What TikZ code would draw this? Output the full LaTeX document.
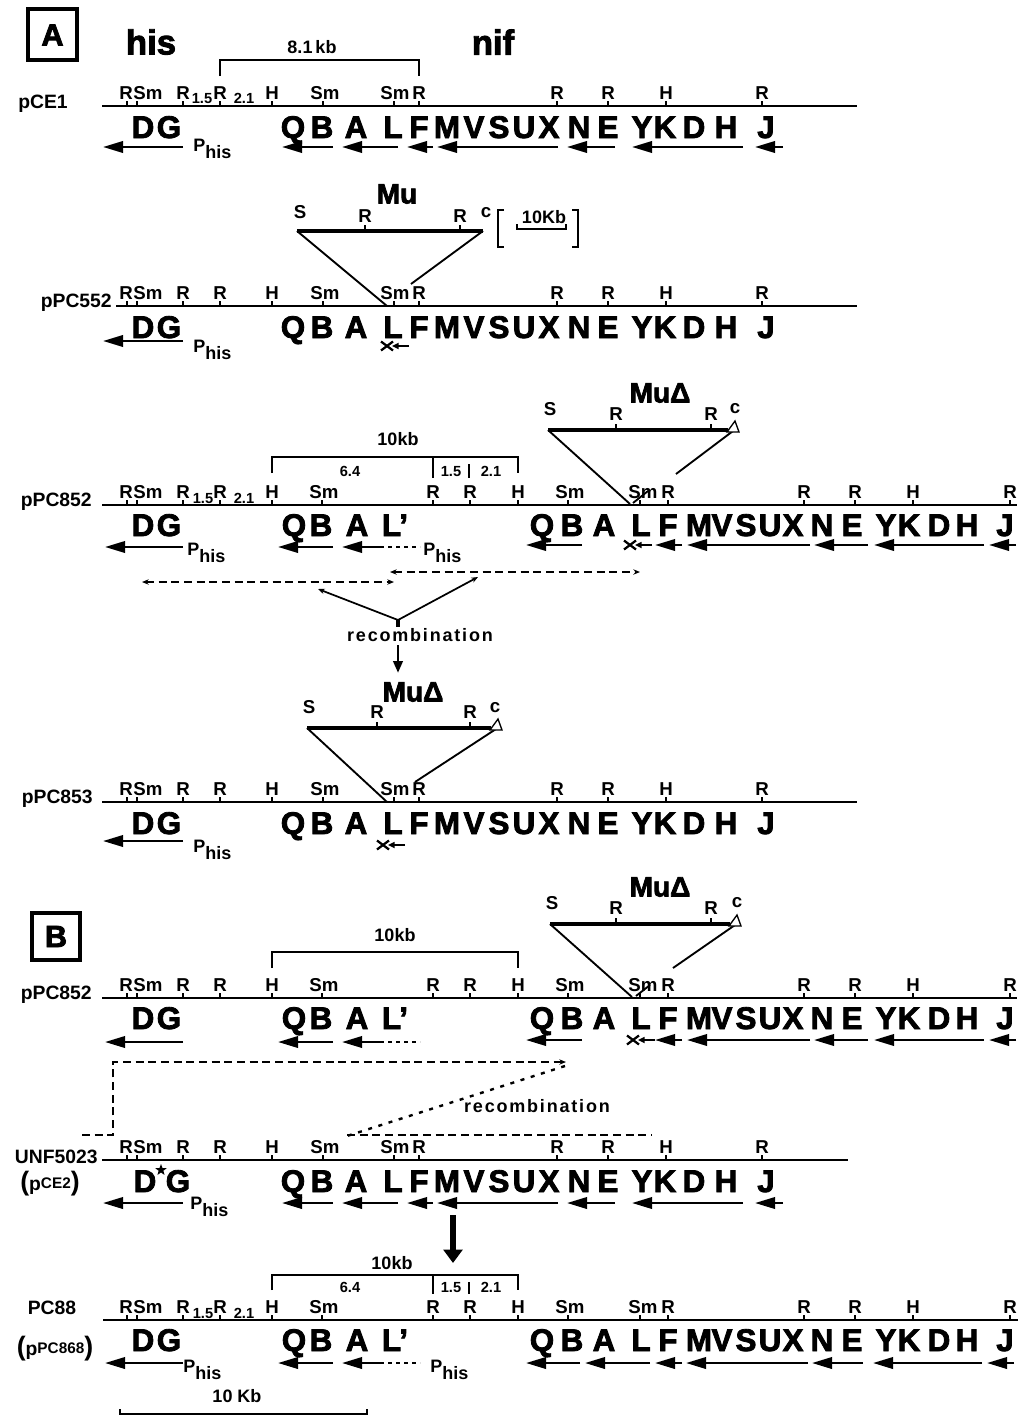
\documentclass[tikz,border=0pt]{standalone}
\usepackage{fontspec}
\setmainfont{Liberation Sans}
\newfontfamily\bfont{Liberation Sans Bold}
\newfontfamily\heavy[FakeBold=2.6]{Liberation Sans Bold}
\newfontfamily\spaced[LetterSpace=10]{Liberation Sans Bold}
\usetikzlibrary{arrows.meta,shapes.geometric}
\newcommand\Phis{P\raisebox{-5.5pt}{his}}
\tikzset{
  dna/.style={line width=2.2pt},
  tck/.style={line width=1.1pt},
  gene/.style={font=\heavy\fontsize{23.5}{23.5}\selectfont, inner sep=0pt, anchor=base},
  site/.style={font=\bfont\fontsize{14}{14}\selectfont, inner sep=0pt, anchor=base},
  subn/.style={font=\bfont\fontsize{11}{11}\selectfont, inner sep=0pt, anchor=base},
  plab/.style={font=\bfont\fontsize{14.5}{14.5}\selectfont, inner sep=0pt, anchor=east},
  garrow/.style={line width=1.9pt, -{Triangle[length=15pt,width=8.5pt]}},
  smallarrow/.style={line width=1.2pt, -{Triangle[length=5pt,width=4.5pt]}},
  phis/.style={font=\bfont\fontsize{13.5}{13.5}\selectfont, inner sep=0pt, anchor=base west},
  bracket/.style={line width=1.6pt},
  mubar/.style={line width=3pt},
  mulines/.style={line width=1.4pt},
  mutitle/.style={font=\heavy\fontsize{21}{21}\selectfont, inner sep=0pt},
  dashedline/.style={line width=1.4pt, dash pattern=on 6pt off 3.5pt},
  shortdash/.style={line width=1.4pt, dash pattern=on 3pt off 3pt},
  kb/.style={font=\bfont\fontsize{13.5}{13.5}\selectfont, inner sep=0pt},
  recomb/.style={font=\spaced\fontsize{13.5}{13.5}\selectfont, inner sep=0pt},
  boxlet/.style={font=\heavy\fontsize{23}{23}\selectfont, inner sep=0pt},
  bigword/.style={font=\heavy\fontsize{26}{26}\selectfont, inner sep=0pt},
  smalltip/.style={-{Stealth[length=5pt,width=4pt]}},
}
% restriction map of pCE1 type: #1 line y, #2 start x, #3 end x
\newcommand\sitesCE[3]{%
  \draw[dna] (#2,#1) -- (#3,#1);
  \foreach \x in {127,137,183,220,272,323,394,419,557,608,666,762} \draw[tck] (\x,#1) -- (\x,#1-5);
  \foreach \x/\t in {126/R,148/Sm,183/R,220/R,272/H,325/Sm,395/Sm,419/R,557/R,608/R,666/H,762/R}
    \node[site] (c#1-\x) at (\x,#1-6.5) {\t};
}
% restriction map of pPC852 type
\newcommand\sitesPC[3]{%
  \draw[dna] (#2,#1) -- (#3,#1);
  \foreach \x in {127,137,183,220,272,322,433,470,518,568,640,668,804,855,913,1010} \draw[tck] (\x,#1) -- (\x,#1-5);
  \foreach \x/\t in {126/R,148/Sm,183/R,220/R,272/H,324/Sm,433/R,470/R,518/H,570/Sm,643/Sm,668/R,804/R,855/R,913/H,1010/R}
    \node[site] (p#1-\x) at (\x,#1-6.5) {\t};
}
% genes, pCE1 type: #1 line y, #2 D x, #3 G x
\newcommand\genesCE[3]{%
  \node[gene] (cd#1) at (#2,#1+32) {D};
  \node[gene] (cg#1) at (#3,#1+32) {G};
  \foreach \x/\t in {293/Q,322/B,356/A,393/L,419/F,447/M,474/V,499/S,524/U,549/X,579/N,608/E,642/Y,665/K,694/D,726/H,766/J}
    \node[gene] (ce#1-\x) at (\x,#1+32) {\t};
}
\newcommand\genesPCL[1]{%
  \foreach \x/\t in {143/D,169/G,294/Q,321/B,357/A,395/L’}
    \node[gene] (pl#1-\x) at (\x,#1+31) {\t};
}
\newcommand\genesPCR[1]{%
  \foreach \x/\t in {542/Q,572/B,604/A,641/L,668/F,699/M,722/V,746/S,770/U,793/X,822/N,852/E,886/Y,909/K,939/D,967/H,1005/J}
    \node[gene] (pr#1-\x) at (\x,#1+31) {\t};
}
\newcommand\arrowsCE[1]{%
  \foreach \a/\b in {183/103,333/282,398/342,433/407,558/437,615/567,743/632,783/755}
    \draw[garrow] (\a,#1) -- (\b,#1);
}
\newcommand\arrowsPCL[1]{%
  \draw[garrow] (183,#1) -- (105,#1);
  \draw[garrow] (333,#1) -- (278,#1);
  \draw[shortdash] (380,#1) -- (420,#1);
  \draw[garrow] (382,#1) -- (342,#1);
}
\newcommand\arrowsPCR[1]{%
  \foreach \a/\b in {582/526,682/655,810/687,868/814,984/874,1016/989}
    \draw[garrow] (\a,#1) -- (\b,#1);
}
\newcommand\xmark[2]{%
  \draw[line width=1.7pt] (#1-6,#2-4.5) -- (#1+6,#2+4.5) (#1-6,#2+4.5) -- (#1+6,#2-4.5);
  \draw[smallarrow] (#1+22,#2) -- (#1+5,#2);
}
\newcommand\kbbracket[2]{% #1 top y, #2 leg bottom y
  \draw[bracket] (272,#2) -- (272,#1) -- (518,#1) -- (518,#2);
}
\begin{document}
\begin{tikzpicture}[x=0.75pt,y=-0.75pt]
\useasboundingbox (0,0) rectangle (1021,1417);
\fill[white] (0,0) rectangle (1021,1417);

% ================= Panel A =================
\draw[line width=2.8pt] (28,9) rectangle (77,60);
\node[boxlet] (boxA) at (52.5,35) {A};
\node[bigword] (his) at (151,42) {his};
\node[bigword] (nif) at (493,42) {nif};
\draw[bracket] (220,76) -- (220,60) -- (419,60) -- (419,76);
\node[kb] (kb81) at (312,47) {8.1\,kb};

% ---- pCE1
\node[plab] (pce1) at (68,104) {pCE1};
\sitesCE{106}{102}{857}
\node[subn] (s15a) at (202,103) {1.5};
\node[subn] (s21a) at (244,103) {2.1};
\genesCE{106}{143}{169}
\arrowsCE{147}
\node[phis] (phA) at (193,151) {\Phis};

% ---- Mu insertion
\node[mutitle] (mu1) at (397,194) {Mu};
\draw[mulines] (297,231) -- (387,306);
\draw[mulines] (483,231) -- (411,284);
\draw[mubar] (297,231) -- (483,231);
\draw[tck] (365,231) -- (365,225) (460,231) -- (460,225);
\node[site] (mu1S) at (300,218) {S};
\node[site] (mu1R1) at (365,222) {R};
\node[site] (mu1R2) at (460,222) {R};
\node[site] (mu1c) at (486,217) {c};
% 10Kb scale in brackets
\draw[bracket] (504,210) -- (498,210) -- (498,247) -- (504,247);
\draw[bracket] (572,210) -- (578,210) -- (578,247) -- (572,247);
\draw[bracket] (517,224) -- (517,229) -- (566,229) -- (566,224);
\node[kb] (kbMu) at (544,217) {10Kb};

% ---- pPC552
\node[plab] (p552) at (112,303) {pPC552};
\sitesCE{306}{116}{857}
\genesCE{306}{143}{169}
\draw[garrow] (183,341) -- (103,341);
\node[phis] (phB) at (193,352) {\Phis};
\xmark{387}{346}

% ---- MuDelta on pPC852
\node[mutitle] (mu2) at (660,393) {MuΔ};
\draw[mulines] (548,430) -- (630,504);
\draw[mulines] (733,431) -- (676,474);
\draw[mulines] (633,503) -- (648,491);
\draw[mubar] (548,430) -- (728,430);
\draw[tck] (616,430) -- (616,424) (711,430) -- (711,424);
\draw[line width=1pt, fill=white] (727,432) -- (739,432) -- (735,421) -- cycle;
\node[site] (mu2S) at (550,415) {S};
\node[site] (mu2R1) at (616,420) {R};
\node[site] (mu2R2) at (711,420) {R};
\node[site] (mu2c) at (735,413) {c};

% ---- 10kb bracket pPC852
\kbbracket{457}{473}
\draw[bracket] (433,457) -- (433,478);
\draw[bracket] (469,464) -- (469,478);
\node[kb] (kb10a) at (398,439) {10kb};
\node[subn] (b64a) at (350,476) {6.4};
\node[subn] (b15a) at (451,476) {1.5};
\node[subn] (b21a) at (491,476) {2.1};

% ---- pPC852
\node[plab] (p852a) at (92,502) {pPC852};
\sitesPC{505}{102}{1017}
\node[subn] (s15b) at (203,503) {1.5};
\node[subn] (s21b) at (244,503) {2.1};
\genesPCL{505}
\genesPCR{505}
\arrowsPCL{547}
\arrowsPCR{545}
\xmark{630}{545}
\node[phis] (phC) at (187,555) {\Phis};
\node[phis] (phD) at (423,555) {\Phis};

% ---- recombination (A)
\draw[dashedline, {Stealth[length=5pt,width=4pt]}-{Stealth[length=5pt,width=4pt]}] (390,572) -- (640,572);
\draw[dashedline, {Stealth[length=5pt,width=4pt]}-{Stealth[length=5pt,width=4pt]}] (142,582) -- (394,582);
\coordinate (rcA) at (398,620);
\draw[line width=1.3pt, smalltip] (rcA) -- (318,589);
\draw[line width=1.3pt, smalltip] (rcA) -- (478,577);
\draw[line width=2.6pt] (398,619) -- (398,627);
\node[recomb] (recA) at (420,635) {recombination};
\draw[line width=2.2pt, -{Triangle[length=9pt,width=7pt]}] (398,645) -- (398,673);

% ---- MuDelta on pPC853
\node[mutitle] (mu3) at (413,692) {MuΔ};
\draw[mulines] (307,728) -- (387,802);
\draw[mulines] (496,729) -- (415,782);
\draw[mubar] (307,728) -- (491,728);
\draw[tck] (377,728) -- (377,722) (470,728) -- (470,722);
\draw[line width=1pt, fill=white] (490,730) -- (502,730) -- (498,719) -- cycle;
\node[site] (mu3S) at (309,713) {S};
\node[site] (mu3R1) at (377,718) {R};
\node[site] (mu3R2) at (470,718) {R};
\node[site] (mu3c) at (495,712) {c};

% ---- pPC853
\node[plab] (p853) at (93,799) {pPC853};
\sitesCE{802}{102}{857}
\genesCE{802}{143}{169}
\draw[garrow] (183,841) -- (103,841);
\node[phis] (phE) at (193,852) {\Phis};
\xmark{383}{845}

% ================= Panel B =================
\draw[line width=2.8pt] (32,913) rectangle (80,960);
\node[boxlet] (boxB) at (56,936.5) {B};

\node[mutitle] (mu4) at (660,887) {MuΔ};
\draw[mulines] (550,924) -- (632,997);
\draw[mulines] (735,925) -- (673,968);
\draw[mulines] (636,996) -- (650,985);
\draw[mubar] (550,924) -- (730,924);
\draw[tck] (616,924) -- (616,918) (711,924) -- (711,918);
\draw[line width=1pt, fill=white] (729,926) -- (741,926) -- (737,915) -- cycle;
\node[site] (mu4S) at (552,909) {S};
\node[site] (mu4R1) at (616,914) {R};
\node[site] (mu4R2) at (711,914) {R};
\node[site] (mu4c) at (737,907) {c};

\kbbracket{952}{968}
\node[kb] (kb10b) at (395,935) {10kb};

% ---- pPC852 (B)
\node[plab] (p852b) at (92,995) {pPC852};
\sitesPC{998}{102}{1017}
\genesPCL{998}
\genesPCR{998}
\arrowsPCL{1042}
\arrowsPCR{1040}
\xmark{633}{1040}

% ---- recombination (B)
\draw[dashedline, smalltip] (82,1135) -- (113,1135) -- (113,1062) -- (566,1062);
\draw[line width=1.8pt, dash pattern=on 3pt off 5pt] (565,1066) -- (347,1136);
\draw[dashedline] (347,1135) -- (652,1135);
\node[recomb] (recB) at (537,1106) {recombination};

% ---- UNF5023 (pCE2)
\node[plab] (unf) at (98,1157) {UNF5023};
\node[font=\bfont, inner sep=0pt] (pce2) at (50,1184) {\fontsize{20}{20}\selectfont(\fontsize{14.5}{14.5}\selectfont p\raisebox{2pt}{\fontsize{11.5}{11.5}\selectfont CE2}\fontsize{20}{20}\selectfont)};
\sitesCE{1160}{102}{848}
\genesCE{1160}{145}{178}
\node[star, star points=5, star point ratio=2.4, fill=black, inner sep=0pt, minimum size=9pt] (star) at (161,1170) {};
\arrowsCE{1203}
\node[phis] (phF) at (190,1209) {\Phis};

\draw[line width=4.5pt, -{Triangle[length=10pt,width=14pt]}] (453,1215) -- (453,1263);

% ---- PC88 (pPC868)
\kbbracket{1275}{1290}
\draw[bracket] (433,1275) -- (433,1294);
\draw[bracket] (469,1282) -- (469,1294);
\node[kb] (kb10c) at (392,1263) {10kb};
\node[subn] (b64c) at (350,1292) {6.4};
\node[subn] (b15c) at (451,1292) {1.5};
\node[subn] (b21c) at (491,1292) {2.1};

\node[font=\bfont\fontsize{14.5}{14.5}\selectfont, inner sep=0pt] (pc88) at (52,1308) {PC88};
\node[font=\bfont, inner sep=0pt] (p868) at (55,1349) {\fontsize{20}{20}\selectfont(\fontsize{14.5}{14.5}\selectfont p\raisebox{2pt}{\fontsize{11.5}{11.5}\selectfont PC868}\fontsize{20}{20}\selectfont)};
\sitesPC{1320}{103}{1018}
\node[subn] (s15c) at (203,1318) {1.5};
\node[subn] (s21c) at (244,1318) {2.1};
\genesPCL{1320}
\genesPCR{1320}
\arrowsPCL{1363}
\foreach \a/\b in {580/526,650/585,682/655,808/686,863/812,982/873,1014/987}
  \draw[garrow] (\a,1363) -- (\b,1363);
\node[phis] (phG) at (183,1372) {\Phis};
\node[phis] (phH) at (430,1372) {\Phis};

% ---- scale bar
\node[kb] (kbscale) at (237,1396) {10 Kb};
\draw[bracket] (120,1409) -- (120,1414) -- (367,1414) -- (367,1409);
\end{tikzpicture}
\end{document}
